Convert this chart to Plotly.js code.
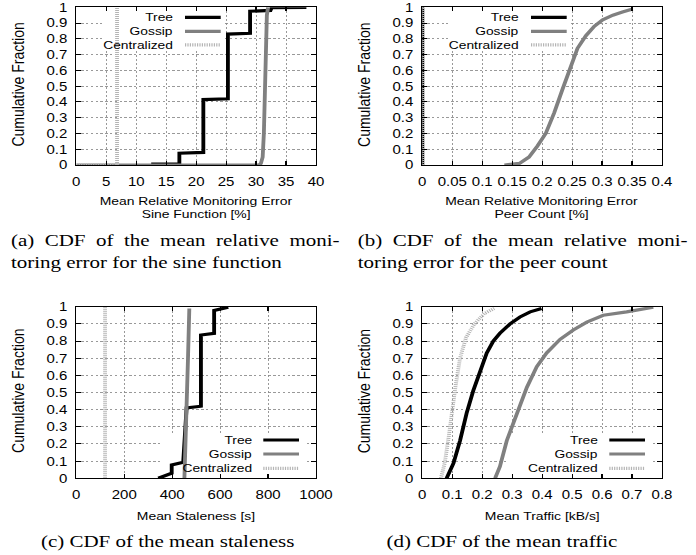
<!DOCTYPE html>
<html>
<head>
<meta charset="utf-8">
<script src="https://cdn.plot.ly/plotly-3.0.1.min.js"></script>
<style>
html,body{margin:0;padding:0;background:#fff;overflow:hidden}
#wrap{width:696px;height:555px;overflow:hidden}
#chart{width:580px;height:555px;transform:scaleX(1.2);transform-origin:0 0}
</style>
</head>
<body>
<div id="wrap"><div id="chart"></div></div>
<script>
// ---------- data ----------
const seriesNames = ["Tree", "Gossip", "Centralized"];

// (a) mean relative monitoring error, sine function [%]
const aTreeX = [12.5, 17.2, 17.2, 21.2, 21.2, 25.3, 25.3, 29.0, 29.0, 32.4, 32.6, 38.4];
const aTreeY = [0.005, 0.005, 0.075, 0.08, 0.415, 0.42, 0.83, 0.835, 0.975, 0.98, 0.998, 1.0];
const aGossipX = [0, 30.5, 30.8, 31.1, 31.3, 31.45, 31.6, 31.8, 32.0];
const aGossipY = [0, 0, 0.01, 0.05, 0.2, 0.5, 0.8, 0.95, 1.0];
const aCentralX = [0, 6.8, 6.8];
const aCentralY = [0, 0, 1];

// (b) mean relative monitoring error, peer count [%]
const bTreeX = [0, 0];
const bTreeY = [0, 1];
const bGossipX = [0.137, 0.162, 0.178, 0.192, 0.206, 0.220, 0.234, 0.248, 0.259, 0.273, 0.287, 0.301, 0.318, 0.334, 0.351];
const bGossipY = [0, 0.01, 0.05, 0.12, 0.2, 0.33, 0.48, 0.62, 0.74, 0.82, 0.88, 0.92, 0.95, 0.97, 0.99];
const bCentralX = [0, 0];
const bCentralY = [0, 1];

// (c) mean staleness [s]
const cTreeX = [342, 398, 398, 446, 460, 520, 520, 575, 575, 634];
const cTreeY = [0, 0.03, 0.078, 0.093, 0.41, 0.42, 0.835, 0.845, 0.978, 0.997];
const cGossipX = [451, 456, 461, 466, 471.5];
const cGossipY = [0, 0.2, 0.42, 0.7, 0.99];
const cCentralX = [120, 120];
const cCentralY = [0, 1];

// (d) mean traffic [kB/s]
const dTreeX = [0.081, 0.104, 0.126, 0.148, 0.170, 0.193, 0.215, 0.237, 0.259, 0.293, 0.326, 0.36, 0.398];
const dTreeY = [0, 0.087, 0.22, 0.38, 0.51, 0.63, 0.73, 0.80, 0.845, 0.90, 0.94, 0.97, 0.99];
const dGossipX = [0.243, 0.259, 0.282, 0.315, 0.349, 0.382, 0.415, 0.46, 0.504, 0.549, 0.604, 0.682, 0.771];
const dGossipY = [0, 0.068, 0.22, 0.38, 0.53, 0.65, 0.73, 0.81, 0.864, 0.91, 0.95, 0.97, 0.997];
const dCentralX = [0.062, 0.075, 0.088, 0.1, 0.112, 0.126, 0.146, 0.174, 0.207, 0.24];
const dCentralY = [0, 0.09, 0.24, 0.40, 0.55, 0.7, 0.82, 0.9, 0.96, 0.99];

// axis texts
const yTitle = "Cumulative Fraction";
const xTitles = {
  a: ["Mean Relative Monitoring Error", "Sine Function [%]"],
  b: ["Mean Relative Monitoring Error", "Peer Count [%]"],
  c: ["Mean Staleness [s]"],
  d: ["Mean Traffic [kB/s]"]
};
const xRanges = {a: [0, 40], b: [0, 0.4], c: [0, 1000], d: [0, 0.8]};
const xDticks = {a: 5, b: 0.05, c: 200, d: 0.1};
const captions = {
  a: ["(a)\u2002CDF\u2002of\u2002the\u2002mean\u2002relative\u2002moni-", "toring error for the sine function"],
  b: ["(b)\u2002CDF\u2002of\u2002the\u2002mean\u2002relative\u2002moni-", "toring error for the peer count"],
  c: ["(c) CDF of the mean staleness"],
  d: ["(d) CDF of the mean traffic"]
};

// ---------- styling / layout ----------
const SANS = '"Liberation Sans", Arial, Helvetica, sans-serif';
const SERIF = '"Liberation Serif", "Times New Roman", Times, serif';
const PW = 696, PH = 555;
const fx = px => px / PW;
const fy = py => 1 - py / PH;

const styles = [
  {color: '#000000', width: 3.2},
  {color: '#808080', width: 3.2},
  {color: '#b4b4b4', width: 3.2, dash: '1px,1px'}
];

const panels = [
  {key: 'a', xa: 'x',  ya: 'y',  L: 76.3,  R: 316, T: 7.3,   B: 165,
   data: [[aTreeX, aTreeY], [aGossipX, aGossipY], [aCentralX, aCentralY]], legendTop: true},
  {key: 'b', xa: 'x2', ya: 'y2', L: 422.3, R: 662, T: 7.3,   B: 165,
   data: [[bTreeX, bTreeY], [bGossipX, bGossipY], [bCentralX, bCentralY]], legendTop: true},
  {key: 'c', xa: 'x3', ya: 'y3', L: 76.3,  R: 316, T: 306.7, B: 478.3,
   data: [[cTreeX, cTreeY], [cGossipX, cGossipY], [cCentralX, cCentralY]], legendTop: false},
  {key: 'd', xa: 'x4', ya: 'y4', L: 422.3, R: 662, T: 306.7, B: 478.3,
   data: [[dTreeX, dTreeY], [dGossipX, dGossipY], [dCentralX, dCentralY]], legendTop: false}
];

const traces = [];
const layout = {
  width: 580, height: 555,
  margin: {l: 0, r: 0, t: 0, b: 0},
  paper_bgcolor: '#ffffff', plot_bgcolor: '#ffffff',
  showlegend: false,
  font: {family: SANS, color: '#000'},
  annotations: [], shapes: []
};

function axisBase() {
  return {
    showline: true, linecolor: '#000', linewidth: 1, mirror: 'ticks',
    ticks: 'inside', ticklen: 4, tickcolor: '#000', tickwidth: 1,
    showgrid: true, gridcolor: '#8a8a8a', gridwidth: 0.8, griddash: '2px,2px',
    zeroline: false, fixedrange: true,
    tickfont: {family: SANS, size: 12.5, color: '#000'}
  };
}

function ann(text, xpx, ypx, o) {
  layout.annotations.push(Object.assign({
    xref: 'paper', yref: 'paper', x: fx(xpx), y: fy(ypx),
    text: text, showarrow: false, xanchor: 'center', yanchor: 'middle',
    font: {family: SANS, size: 11.6, color: '#000'}
  }, o || {}));
}

panels.forEach((p, i) => {
  const n = i === 0 ? '' : String(i + 1);
  const xr = xRanges[p.key];
  const xax = axisBase(), yax = axisBase();
  Object.assign(xax, {domain: [fx(p.L), fx(p.R)], anchor: p.ya, range: xr,
    tick0: 0, dtick: xDticks[p.key], ticklabelstandoff: 5});
  Object.assign(yax, {domain: [fy(p.B), fy(p.T)], anchor: p.xa, range: [0, 1],
    tick0: 0, dtick: 0.1, ticklabelstandoff: 4});
  layout['xaxis' + n] = xax;
  layout['yaxis' + n] = yax;

  p.data.forEach((d, k) => {
    traces.push({
      type: 'scatter', mode: 'lines', x: d[0], y: d[1], name: seriesNames[k],
      xaxis: p.xa, yaxis: p.ya, line: Object.assign({}, styles[k]), hoverinfo: 'skip'
    });
  });

  // pixel -> axis value helpers for the key box
  const w = p.R - p.L, h = p.B - p.T;
  const px2x = px => xr[0] + (px - p.L) / w * (xr[1] - xr[0]);
  const py2y = py => (p.B - py) / h;

  let box, textR, sL, sR, rows;
  if (p.legendTop) {
    box = [p.L + 25.7, p.L + 147.7, p.T + 0.7, p.T + 43.7];
    textR = p.L + 98.7; sL = p.L + 108.7; sR = p.L + 144.4;
    rows = [p.T + 10, p.T + 24, p.T + 37.5];
  } else {
    box = [p.L + 86.7, p.L + 228.7, p.T + 126.3, p.T + 170.3];
    textR = p.L + 177.7; sL = p.L + 187; sR = p.L + 222.7;
    rows = [p.T + 133.3, p.T + 147.3, p.T + 161.6];
  }
  // opaque key background: above grid, below curves
  layout.shapes.push({
    type: 'rect', layer: 'between', xref: p.xa, yref: p.ya,
    x0: px2x(box[0]), x1: px2x(box[1]), y0: py2y(box[3]), y1: py2y(box[2]),
    fillcolor: '#ffffff', line: {width: 0}
  });
  seriesNames.forEach((nm, k) => {
    ann(nm, textR, rows[k], {xanchor: 'right', font: {family: SANS, size: 11.5, color: '#000'}});
    layout.shapes.push({
      type: 'line', layer: 'above', xref: 'paper', yref: 'paper',
      x0: fx(sL), x1: fx(sR), y0: fy(rows[k]), y1: fy(rows[k]),
      line: Object.assign({}, styles[k])
    });
  });

  // y title
  ann(yTitle, p.L - 58.3, (p.T + p.B) / 2 - 1.5, {textangle: -90, font: {family: SANS, size: 14, color: '#000'}});
  // x title lines
  const xt = xTitles[p.key];
  const cx = (p.L + p.R) / 2;
  if (xt.length === 2) {
    ann(xt[0], cx, p.B + 35);
    ann(xt[1], cx, p.B + 48);
  } else {
    ann(xt[0], cx, p.B + 37);
  }
  // captions
  const cap = captions[p.key];
  const capX = {a: 8, b: 355, c: 38, d: 384}[p.key];
  const capFont = {family: SERIF, size: 17.5, color: '#000'};
  if (cap.length === 2) {
    ann(cap[0], capX, p.B + 75, {xanchor: 'left', font: capFont});
    ann(cap[1], capX, p.B + 97, {xanchor: 'left', font: capFont});
  } else {
    ann(cap[0], capX, p.B + 63, {xanchor: 'left', font: capFont});
  }
});

Plotly.newPlot('chart', traces, layout, {staticPlot: true, displayModeBar: false});
</script>
</body>
</html>
